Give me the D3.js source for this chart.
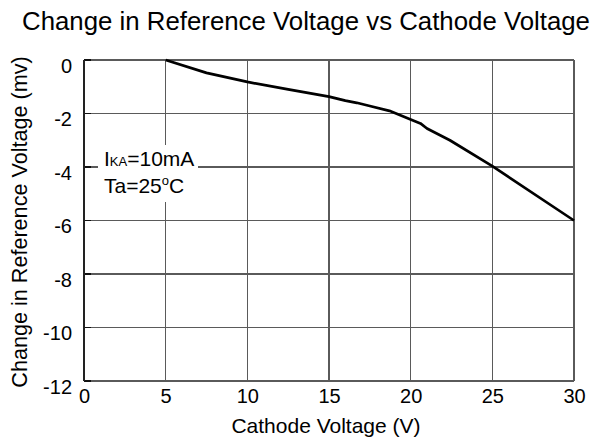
<!DOCTYPE html>
<html>
<head>
<meta charset="utf-8">
<script src="https://cdn.jsdelivr.net/npm/d3@7"></script>
<style>
  html, body { margin: 0; padding: 0; background: #fff; }
  text { font-family: "Liberation Sans", Arial, sans-serif; fill: #000; }
</style>
</head>
<body>
<svg id="chart" width="603" height="441"></svg>
<script>
// Data
const cathodeVoltage = [5, 7.5, 10, 12.5, 15, 16, 16.7, 17.5, 18.7, 20, 20.6, 21, 22.4, 25, 30];
const deltaVref = [0, -0.48, -0.82, -1.1, -1.37, -1.52, -1.6, -1.72, -1.9, -2.22, -2.37, -2.56, -3.0, -3.97, -6.0];
const xTicks = [0, 5, 10, 15, 20, 25, 30];
const yTicks = [0, -2, -4, -6, -8, -10, -12];
const titleText = "Change in Reference Voltage vs Cathode Voltage";
const xTitle = "Cathode Voltage (V)";
const yTitle = "Change in Reference Voltage (mv)";

const svg = d3.select("#chart");
const pLeft = 84, pRight = 574, pTop = 60, pBottom = 381;
const fontFam = "Liberation Sans, Arial, sans-serif";

const x = d3.scaleLinear().domain([0, 30]).range([pLeft, pRight]);
const y = d3.scaleLinear().domain([-12, 0]).range([pBottom, pTop]);

// grid
const grid = svg.append("g").attr("stroke", "#5a5a5a").attr("stroke-width", 1.3).attr("shape-rendering", "crispEdges");
grid.selectAll("line.v").data(xTicks).enter().append("line")
  .attr("x1", d => x(d)).attr("x2", d => x(d)).attr("y1", pTop).attr("y2", pBottom);
grid.selectAll("line.h").data(yTicks).enter().append("line")
  .attr("x1", pLeft).attr("x2", pRight).attr("y1", d => y(d)).attr("y2", d => y(d));

// left inner tick stubs
svg.append("g").attr("stroke", "#111").attr("stroke-width", 1.5).attr("shape-rendering", "crispEdges")
  .selectAll("line").data(yTicks).enter().append("line")
  .attr("x1", pLeft).attr("x2", pLeft + 7).attr("y1", d => y(d)).attr("y2", d => y(d));
svg.append("line").attr("x1", pLeft).attr("x2", pLeft).attr("y1", pTop).attr("y2", pBottom)
  .attr("stroke", "#222").attr("stroke-width", 1.5).attr("shape-rendering", "crispEdges");

const fmt = d => String(d);

// axes labels via d3 axis
const xAxis = svg.append("g").attr("transform", `translate(0,${pBottom})`)
  .call(d3.axisBottom(x).tickValues(xTicks).tickFormat(fmt).tickSize(0).tickPadding(8));
xAxis.select(".domain").remove();
xAxis.selectAll("text").attr("font-size", 20).attr("font-family", fontFam).attr("fill", "#000");

const yAxis = svg.append("g").attr("transform", `translate(${pLeft},0)`)
  .call(d3.axisLeft(y).tickValues(yTicks).tickFormat(fmt).tickSize(0).tickPadding(12));
yAxis.select(".domain").remove();
yAxis.selectAll("text").attr("font-size", 20).attr("font-family", fontFam).attr("fill", "#000")
  .attr("dy", "0.62em");

// annotation white box
svg.append("rect").attr("x", 98).attr("y", 145).attr("width", 100).attr("height", 57).attr("fill", "#fff");

// curve
svg.append("path")
  .datum(cathodeVoltage.map((v, i) => [v, deltaVref[i]]))
  .attr("fill", "none").attr("stroke", "#000").attr("stroke-width", 2.7)
  .attr("stroke-linejoin", "round")
  .attr("d", d3.line().x(d => x(d[0])).y(d => y(d[1])));

// annotation text
const a1 = svg.append("text").attr("x", 104).attr("y", 166).attr("font-size", 21);
a1.append("tspan").text("I");
a1.append("tspan").attr("font-size", 13).text("KA");
a1.append("tspan").text("=10mA");
const a2 = svg.append("text").attr("x", 104).attr("y", 193).attr("font-size", 21);
a2.append("tspan").text("Ta=25");
a2.append("tspan").attr("font-size", 13).attr("dy", -8).text("o");
a2.append("tspan").attr("dy", 8).text("C");

// titles
svg.append("text").attr("x", 306).attr("y", 30).attr("text-anchor", "middle")
  .attr("font-size", 25.8).text(titleText);
svg.append("text").attr("x", 326).attr("y", 433).attr("text-anchor", "middle")
  .attr("font-size", 21).text(xTitle);
svg.append("text").attr("transform", "translate(27,222) rotate(-90)").attr("text-anchor", "middle")
  .attr("font-size", 21.6).text(yTitle);
</script>
</body>
</html>
